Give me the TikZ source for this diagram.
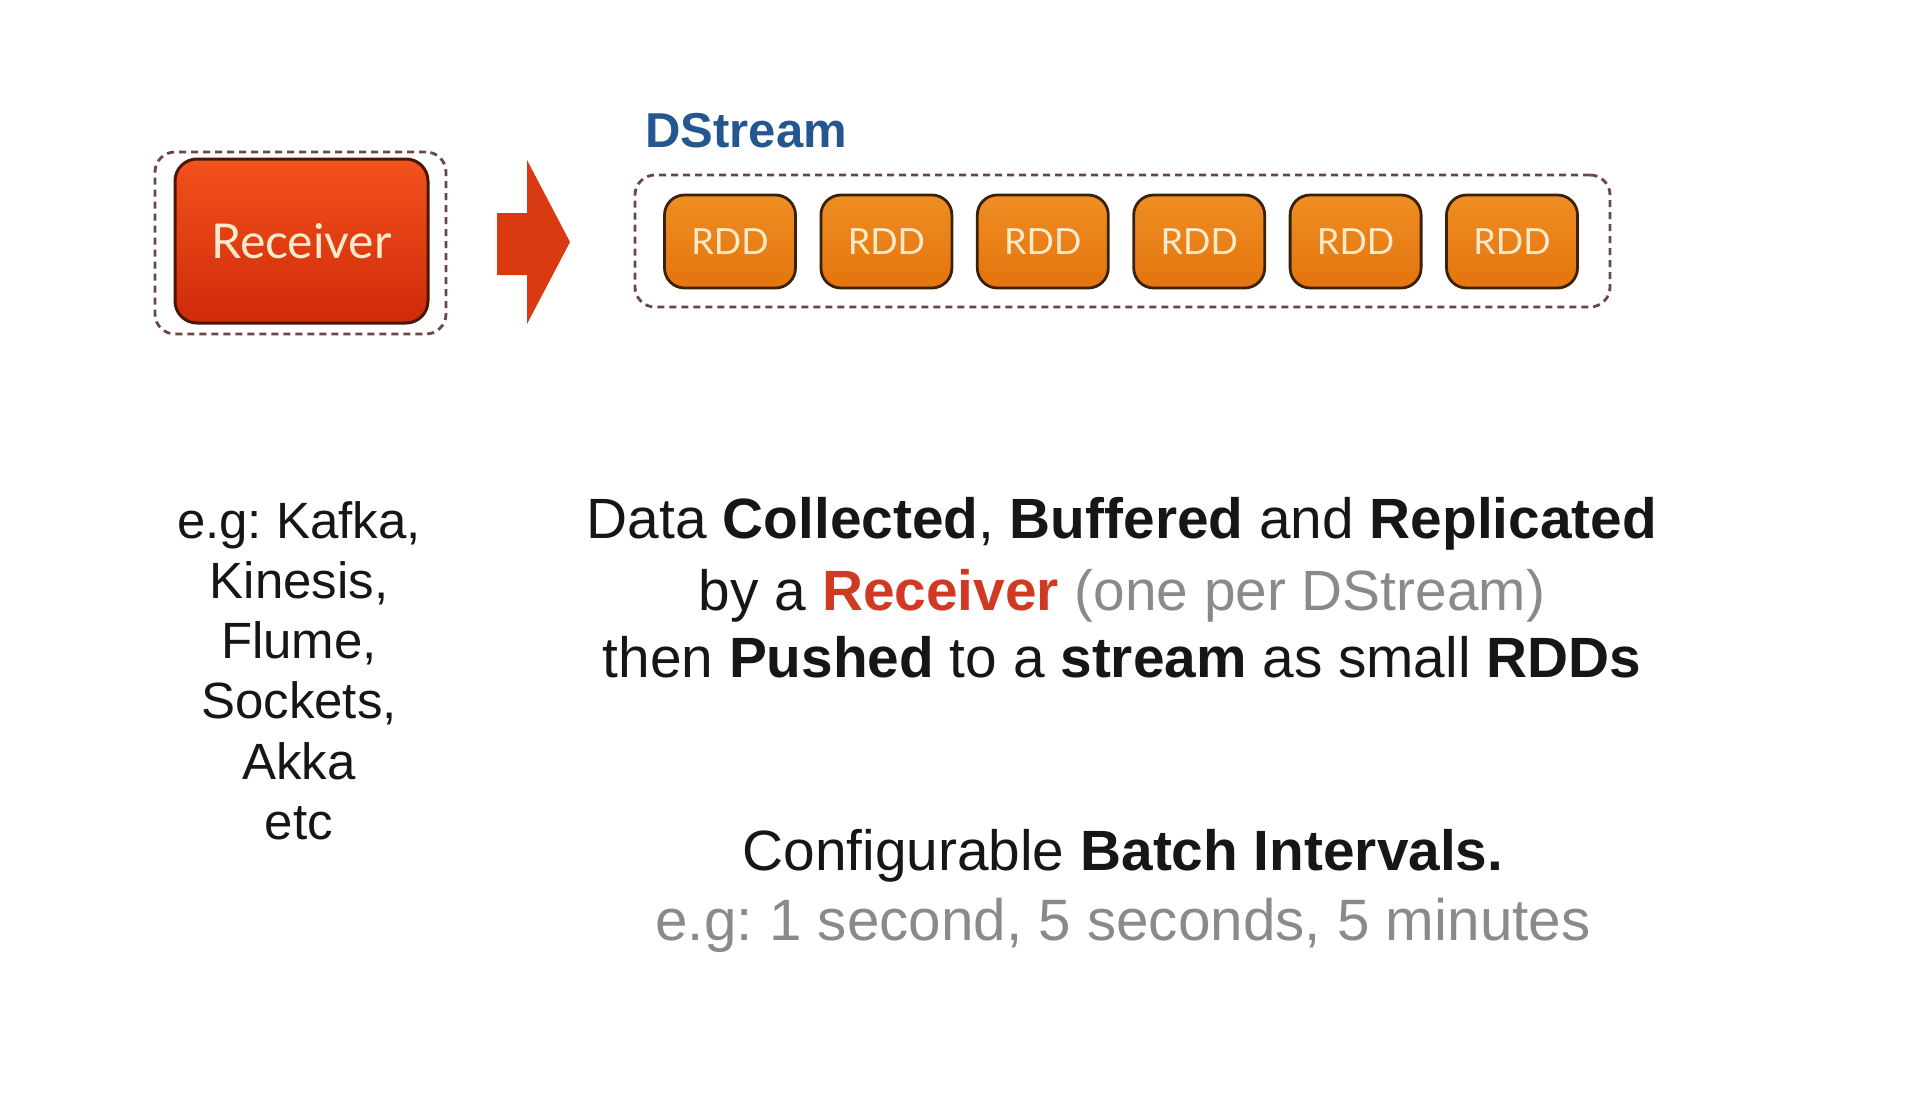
\documentclass[tikz,border=0pt]{standalone}
\usepackage{fontspec}
\setmainfont{Liberation Sans}
\newfontfamily\boxfont{Lato}
\frenchspacing
\definecolor{recTop}{HTML}{F2521C}
\definecolor{recBot}{HTML}{CF2A0A}
\definecolor{recEdge}{HTML}{4A1606}
\definecolor{rddTop}{HTML}{EE8E22}
\definecolor{rddBot}{HTML}{E5740E}
\definecolor{rddEdge}{HTML}{3A2208}
\definecolor{dotEdge}{HTML}{6A4644}
\definecolor{arrowRed}{HTML}{D93A12}
\definecolor{boxText}{HTML}{FCEBCB}
\definecolor{dsBlue}{HTML}{24568F}
\definecolor{hotRed}{HTML}{D03A22}
\definecolor{softGray}{HTML}{8A8A8A}
\definecolor{ink}{HTML}{161616}
\tikzset{
  dotframe/.style={draw=dotEdge, line width=1.4pt, dash pattern=on 3.5pt off 2.5pt,
    rounded corners=10pt, inner sep=0pt},
  recbox/.style={draw=recEdge, line width=1.5pt, rounded corners=11pt,
    top color=recTop, bottom color=recBot, inner sep=0pt,
    minimum width=126.5pt, minimum height=82pt,
    font=\boxfont\fontsize{24}{28}\selectfont, text=boxText},
  rddbox/.style={draw=rddEdge, line width=1.4pt, rounded corners=10pt,
    top color=rddTop, bottom color=rddBot, inner sep=0pt,
    minimum width=65.5pt, minimum height=46.5pt,
    font=\boxfont\fontsize{18}{20}\selectfont, text=boxText},
  bodytext/.style={font=\fontsize{28.4}{34}\selectfont, text=ink, inner sep=0pt},
  listtext/.style={font=\fontsize{25.5}{30.1}\selectfont, text=ink, inner sep=0pt, align=center},
}
\begin{document}
\begin{tikzpicture}[x=0.5pt,y=-0.5pt]
\useasboundingbox[fill=white] (0,0) rectangle (1908,1120);

% receiver and its frame
\node[dotframe, minimum width=145.5pt, minimum height=91pt] (recframe) at (300.5,243) {};
\node[recbox] (receiver) at (301.5,241) {Receiver};

% block arrow towards the stream
\fill[arrowRed] (497,213) -- (527,213) -- (527,160) -- (570,242)
  -- (527,324) -- (527,275) -- (497,275) -- cycle;

% the DStream with its RDDs
\node[dotframe, minimum width=487.5pt, minimum height=66pt] (dsframe) at (1122.5,241) {};
\node[anchor=base west, inner sep=0pt, text=dsBlue,
  font=\bfseries\fontsize{24.5}{28}\selectfont] (dslabel) at (645,147) {DStream};
\foreach \i in {0,...,5}{
  \node[rddbox] (rdd\i) at (730+156.4*\i,241.5) {RDD};
}

% sources
\node[listtext, anchor=north] (sources) at (299,501)
  {e.g: Kafka,\\Kinesis,\\Flume,\\Sockets,\\Akka\\etc};

% description
\node[bodytext, anchor=base] (line1) at (1122,538)
  {Data \textbf{Collected}, \textbf{Buffered} and \textbf{Replicated}};
\node[bodytext, anchor=base] (line2) at (1122,610)
  {by a \textbf{\color{hotRed}Receiver} {\color{softGray}(one per DStream)}};
\node[bodytext, anchor=base] (line3) at (1122,677)
  {then \textbf{Pushed} to a \textbf{stream} as small \textbf{RDDs}};

% batch intervals
\node[bodytext, anchor=base] (batch) at (1123,870)
  {Configurable \textbf{Batch Intervals.}};
\node[bodytext, anchor=base, text=softGray, font=\fontsize{29.2}{34}\selectfont] (batchex) at (1123,940)
  {e.g: 1 second, 5 seconds, 5 minutes};
\end{tikzpicture}
\end{document}
